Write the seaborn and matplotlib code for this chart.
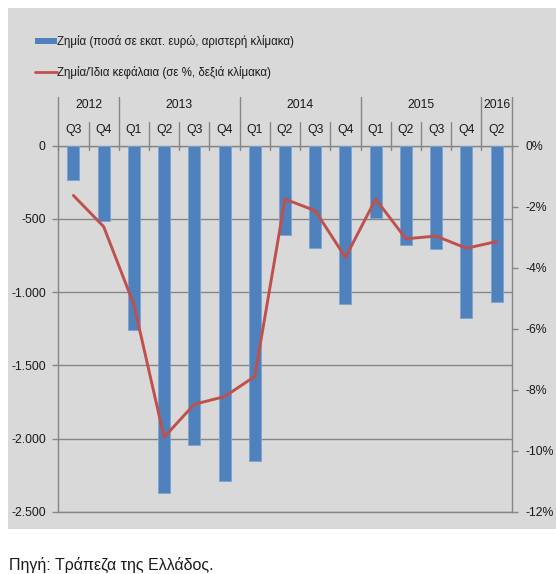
import numpy as np
import pandas as pd
import matplotlib
matplotlib.use("Agg")
import matplotlib.pyplot as plt
import seaborn as sns
from matplotlib.patches import Rectangle, Patch
from matplotlib.lines import Line2D
from matplotlib.ticker import FixedLocator, FixedFormatter
import matplotlib.transforms as mtransforms

# ---------------- data ----------------
quarters = ["Q3", "Q4", "Q1", "Q2", "Q3", "Q4", "Q1", "Q2", "Q3", "Q4",
            "Q1", "Q2", "Q3", "Q4", "Q2"]
years = ["2012", "2013", "2014", "2015", "2016"]
year_counts = [2, 4, 4, 4, 1]
losses = [-232, -517, -1257, -2372, -2044, -2286, -2149, -608, -699, -1079,
          -494, -678, -706, -1177, -1070]
loss_pct = [-1.63, -2.65, -5.2, -9.55, -8.47, -8.22, -7.56, -1.75, -2.13, -3.66,
            -1.75, -3.05, -2.96, -3.36, -3.14]
left_ticks = [0, -500, -1000, -1500, -2000, -2500]
left_labels = ["0", "-500", "-1.000", "-1.500", "-2.000", "-2.500"]
right_ticks = [0, -2, -4, -6, -8, -10, -12]
right_labels = ["0%", "-2%", "-4%", "-6%", "-8%", "-10%", "-12%"]
legend_bar = "Ζημία (ποσά σε εκατ. ευρώ, αριστερή κλίμακα)"
legend_line = "Ζημία/Ίδια κεφάλαια (σε %, δεξιά κλίμακα)"
source = "Πηγή: Τράπεζα της Ελλάδος."

# ---------------- style ----------------
sns.set_theme(style="white")
plt.rcParams["font.family"] = ["Liberation Sans", "DejaVu Sans"]
FS = 8.8
BG = "#d9d9d9"
GRID = "#868686"
BLUE = "#4f81bd"
BLUE_EDGE = "#7ba3d4"
RED = "#c0504d"
TXT = "#1a1a1a"

W, H = 556, 574
fig = plt.figure(figsize=(W / 100, H / 100), dpi=100)
fig.patch.set_facecolor("white")
fig.patches.append(Rectangle((8 / W, 1 - 529 / H), (W - 8) / W, (529 - 8) / H,
                             transform=fig.transFigure, facecolor=BG,
                             edgecolor="none", zorder=-10))

x0, x1 = 58.3, 511.7
ytop, ybot = 145.7, 512.0
ax = fig.add_axes([x0 / W, 1 - ybot / H, (x1 - x0) / W, (ybot - ytop) / H])
ax.set_facecolor("none")

n = len(quarters)
df = pd.DataFrame({"idx": np.arange(n), "loss": losses, "pct": loss_pct})

sns.barplot(data=df, x="idx", y="loss", ax=ax, color=BLUE, width=0.4,
            saturation=1, edgecolor=BLUE_EDGE, linewidth=0.6, zorder=3)
ax.set_xlim(-0.5, n - 0.5)
ax.set_ylim(-2500, 0)
ax.set_xlabel("")
ax.set_ylabel("")
ax.set_xticks([])
ax.yaxis.set_major_locator(FixedLocator(left_ticks))
ax.yaxis.set_major_formatter(FixedFormatter(left_labels))
ax.tick_params(axis="y", which="major", left=True, length=4, width=1,
               color=GRID, pad=5, labelsize=FS, labelcolor=TXT)
ax.grid(axis="y", color=GRID, linewidth=1)
ax.set_axisbelow(True)
for s in ax.spines.values():
    s.set_color(GRID)
    s.set_linewidth(1)

ax2 = ax.twinx()
ax2.set_facecolor("none")
sns.lineplot(data=df, x="idx", y="pct", ax=ax2, color=RED, linewidth=2.1,
             sort=False, zorder=5)
ax2.set_ylim(-12, 0)
ax2.set_xlim(-0.5, n - 0.5)
ax2.set_xlabel("")
ax2.set_ylabel("")
ax2.set_xticks([])
ax2.yaxis.set_major_locator(FixedLocator(right_ticks))
ax2.yaxis.set_major_formatter(FixedFormatter(right_labels))
ax2.tick_params(axis="y", which="major", right=True, length=4, width=1,
                color=GRID, pad=6, labelsize=FS, labelcolor=TXT)
ax2.grid(False)
for s in ax2.spines.values():
    s.set_visible(False)

# ---------------- category header ----------------
trans = mtransforms.blended_transform_factory(ax.transData, ax.transAxes)
axh = ybot - ytop
f_below = 1 - 4.3 / axh
f_q_top = 1 + 24.0 / axh
f_y_top = 1 + 48.7 / axh
f_q_txt = 1 + 15.7 / axh
f_y_txt = 1 + 40.7 / axh

year_bounds = np.cumsum([0] + year_counts)
for b in range(n + 1):
    top = f_y_top if b in year_bounds else f_q_top
    ax.add_line(Line2D([b - 0.5, b - 0.5], [f_below, top], transform=trans,
                       color=GRID, linewidth=1, clip_on=False, zorder=2))
for i, q in enumerate(quarters):
    ax.text(i, f_q_txt, q, transform=trans, ha="center", va="center",
            fontsize=FS, color=TXT)
for yr, a, b in zip(years, year_bounds[:-1], year_bounds[1:]):
    ax.text((a + b - 1) / 2, f_y_txt, yr, transform=trans, ha="center",
            va="center", fontsize=FS, color=TXT)

# ---------------- legend ----------------
handles = [Patch(facecolor=BLUE, edgecolor="none"),
           Line2D([0], [0], color=RED, linewidth=2)]
fig.legend(handles, [legend_bar, legend_line], loc="upper left",
           bbox_to_anchor=(35 / W, 1 - 35 / H), frameon=False, fontsize=8.3,
           handlelength=1.9, handleheight=0.5, handletextpad=0.05,
           labelspacing=1.55, borderpad=0, borderaxespad=0,
           labelcolor=TXT)

# ---------------- source ----------------
fig.text(9 / W, 1 - 565 / H, source, ha="left", va="center", fontsize=11.5,
         color=TXT)

fig.savefig("out.png", dpi=100, facecolor="white")
